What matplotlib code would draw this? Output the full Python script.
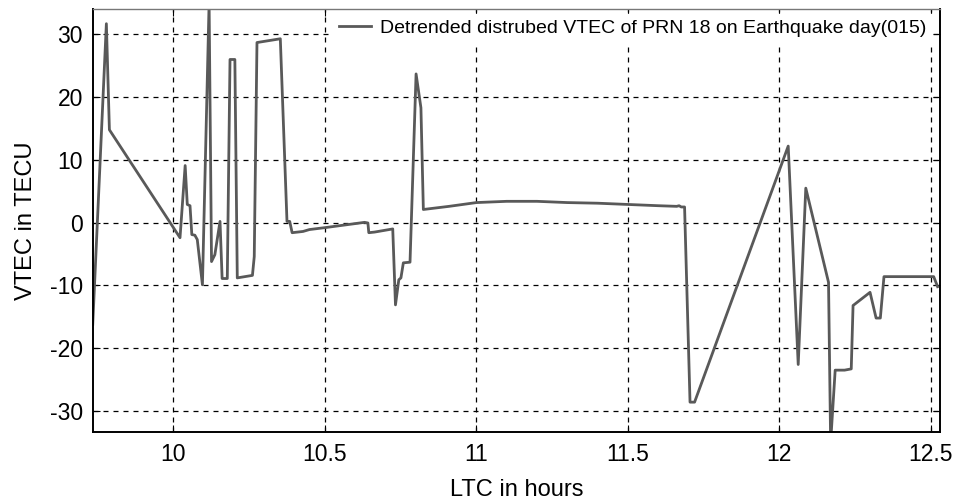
import matplotlib
matplotlib.use("Agg")
import matplotlib.pyplot as plt

plt.rcParams['font.family'] = ['Liberation Sans', 'DejaVu Sans']
plt.rcParams['axes.unicode_minus'] = False

ltc_hours = [9.734, 9.779, 9.789, 10.022, 10.039, 10.046, 10.055, 10.061, 10.071, 10.079,
             10.096, 10.118, 10.126, 10.137, 10.154, 10.161, 10.178, 10.187, 10.203, 10.211,
             10.261, 10.267, 10.276, 10.353, 10.375, 10.384, 10.392, 10.428, 10.449, 10.499,
             10.631, 10.642, 10.645, 10.664, 10.724, 10.733, 10.744, 10.751, 10.759, 10.781,
             10.801, 10.817, 10.825, 10.910, 11.0, 11.1, 11.2, 11.3, 11.4, 11.5, 11.601,
             11.661, 11.669, 11.676, 11.687, 11.705, 11.720, 12.029, 12.062, 12.087, 12.162,
             12.169, 12.184, 12.215, 12.237, 12.243, 12.299, 12.319, 12.333, 12.345, 12.509,
             12.522]
vtec = [-16.2, 31.7, 14.8, -2.4, 9.1, 2.9, 2.7, -1.9, -2.0, -2.7,
        -9.9, 35.0, -6.2, -5.1, 0.2, -8.9, -8.9, 26.0, 26.0, -8.8,
        -8.4, -5.4, 28.7, 29.3, 0.2, 0.2, -1.6, -1.4, -1.1, -0.8,
        0.05, -0.05, -1.6, -1.5, -1.0, -13.1, -9.1, -8.8, -6.4, -6.3,
        23.7, 18.3, 2.1, 2.6, 3.2, 3.4, 3.4, 3.2, 3.1, 2.9, 2.7,
        2.6, 2.7, 2.5, 2.5, -28.6, -28.6, 12.2, -22.6, 5.5, -9.5,
        -35.0, -23.5, -23.5, -23.3, -13.2, -11.1, -15.2, -15.2, -8.6, -8.6,
        -10.2]

x_ticks = [10, 10.5, 11, 11.5, 12, 12.5]
x_tick_labels = ['10', '10.5', '11', '11.5', '12', '12.5']
y_ticks = [-30, -20, -10, 0, 10, 20, 30]
y_tick_labels = ['-30', '-20', '-10', '0', '10', '20', '30']
legend_label = 'Detrended distrubed VTEC of PRN 18 on Earthquake day(015)'

fig = plt.figure(figsize=(9.56, 5.04), dpi=100)
ax = fig.add_axes([0.097, 0.1423, 0.8863, 0.8393])
ax.plot(ltc_hours, vtec, color='#595959', linewidth=2.0, label=legend_label)
ax.set_xlim(9.734, 12.53)
ax.set_ylim(-33.4, 34.0)
ax.set_xticks(x_ticks)
ax.set_xticklabels(x_tick_labels)
ax.set_yticks(y_ticks)
ax.set_yticklabels(y_tick_labels)
ax.grid(True, color='black', linestyle=(0, (4, 4)), linewidth=0.9)
ax.tick_params(direction='in', top=True, right=True, labelsize=16.5, length=5)
ax.tick_params(axis='x', pad=8)
ax.tick_params(axis='y', pad=7)
for s in ax.spines.values():
    s.set_linewidth(1.4)
ax.spines['top'].set_color('#777777')
ax.spines['top'].set_linewidth(1.0)
ax.set_xlabel('LTC in hours', fontsize=17, labelpad=9)
ax.set_ylabel('VTEC in TECU', fontsize=17, labelpad=9)
leg = ax.legend(loc='upper right', bbox_to_anchor=(0.9906, 0.99), fontsize=14,
                frameon=True, fancybox=False, framealpha=1.0, edgecolor='white',
                handlelength=1.65, handletextpad=0.45, borderpad=0.3,
                borderaxespad=0.0)
fig.savefig('out.png', dpi=100)
